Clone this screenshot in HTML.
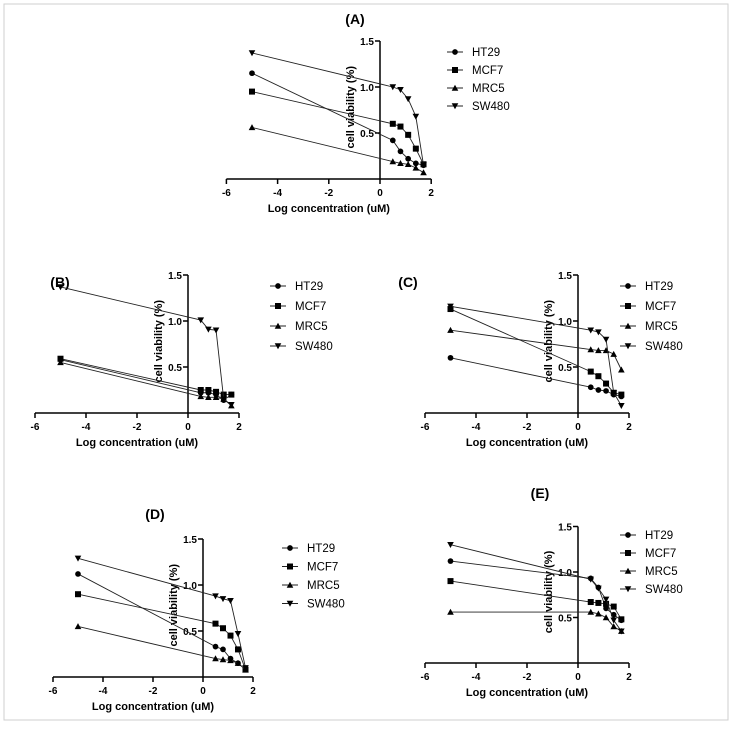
<!DOCTYPE html>
<html><head><meta charset="utf-8"><style>
html,body{margin:0;padding:0;background:#fff;}
svg text{font-family:"Liberation Sans",Arial,sans-serif;}
</style></head><body>
<svg id="fig" width="733" height="724" xmlns="http://www.w3.org/2000/svg">
<rect x="4" y="4" width="724" height="716" fill="none" stroke="#cfcfcf" stroke-width="1"/>
</svg>
<script>
const xVals=[-5,0.5,0.8,1.1,1.4,1.7];
const seriesNames=["HT29","MCF7","MRC5","SW480"];
const xTicks=[-6,-4,-2,0,2];
const yTicks=[0.5,1.0,1.5];
const A_HT29=[1.15,0.42,0.3,0.22,0.17,0.15];
const A_MCF7=[0.95,0.6,0.57,0.48,0.33,0.16];
const A_MRC5=[0.56,0.19,0.17,0.16,0.12,0.07];
const A_SW480=[1.37,1.0,0.97,0.87,0.68,0.15];
const B_HT29=[0.58,0.22,0.22,0.2,0.14,0.2];
const B_MCF7=[0.59,0.25,0.25,0.23,0.2,0.2];
const B_MRC5=[0.55,0.18,0.17,0.17,0.15,0.08];
const B_SW480=[1.37,1.01,0.91,0.9,0.15,0.09];
const C_HT29=[0.6,0.28,0.25,0.24,0.2,0.18];
const C_MCF7=[1.13,0.45,0.4,0.32,0.22,0.2];
const C_MRC5=[0.9,0.69,0.68,0.68,0.64,0.47];
const C_SW480=[1.16,0.9,0.88,0.8,0.22,0.08];
const D_HT29=[1.12,0.33,0.3,0.2,0.15,0.08];
const D_MCF7=[0.9,0.58,0.53,0.45,0.3,0.08];
const D_MRC5=[0.55,0.2,0.19,0.18,0.15,0.08];
const D_SW480=[1.29,0.88,0.85,0.83,0.47,0.1];
const E_HT29=[1.12,0.93,0.83,0.6,0.53,0.47];
const E_MCF7=[0.9,0.67,0.66,0.65,0.62,0.48];
const E_MRC5=[0.56,0.56,0.54,0.5,0.4,0.35];
const E_SW480=[1.3,0.92,0.82,0.7,0.47,0.35];

const panels=[
 {id:"A",ox:380,base:179,ux:25.6,uy:92,tx:355,ty:24,lx:455,ly:52,ls:18,data:[A_HT29,A_MCF7,A_MRC5,A_SW480]},
 {id:"B",ox:188,base:413,ux:25.5,uy:92,tx:60,ty:287,lx:278,ly:286,ls:20,data:[B_HT29,B_MCF7,B_MRC5,B_SW480]},
 {id:"C",ox:578,base:413,ux:25.5,uy:92,tx:408,ty:287,lx:628,ly:286,ls:20,data:[C_HT29,C_MCF7,C_MRC5,C_SW480]},
 {id:"D",ox:203,base:677,ux:25,uy:92,tx:155,ty:519,lx:290,ly:548,ls:18.5,data:[D_HT29,D_MCF7,D_MRC5,D_SW480]},
 {id:"E",ox:578,base:663,ux:25.5,uy:91,tx:540,ty:498,lx:628,ly:535,ls:18,data:[E_HT29,E_MCF7,E_MRC5,E_SW480]}
];
const svg=document.getElementById('fig');
const NS="http://www.w3.org/2000/svg";
function mk(tag,attrs,parent){const e=document.createElementNS(NS,tag);for(const k in attrs)e.setAttribute(k,attrs[k]);(parent||svg).appendChild(e);return e;}
function marker(g,i,x,y,s){
 let e;
 if(i===0){e=mk('circle',{cx:x,cy:y,r:s*0.95,fill:'#000'},g);}
 else if(i===1){e=mk('rect',{x:x-s,y:y-s,width:2*s,height:2*s,fill:'#000'},g);}
 else if(i===2){e=mk('polygon',{points:`${x},${y-s*1.1} ${x-s*1.1},${y+s*0.9} ${x+s*1.1},${y+s*0.9}`,fill:'#000'},g);}
 else {e=mk('polygon',{points:`${x},${y+s*1.1} ${x-s*1.1},${y-s*0.9} ${x+s*1.1},${y-s*0.9}`,fill:'#000'},g);}
 return e;
}
panels.forEach(p=>{
 const g=mk('g',{});
 
 
 const X=v=>p.ox+v*p.ux, Y=v=>p.base-v*p.uy;
 const t=mk('text',{x:p.tx,y:p.ty,'font-size':14,'font-weight':'bold','text-anchor':'middle'},g);t.textContent='('+p.id+')';
 
 const xa=mk('line',{x1:X(-6),x2:X(2),y1:p.base,y2:p.base,stroke:'#000','stroke-width':1.5},g);
 
 xTicks.forEach(v=>{mk('line',{x1:X(v),x2:X(v),y1:p.base,y2:p.base+5,stroke:'#000','stroke-width':1.5},g);
  const tl=mk('text',{x:X(v),y:p.base+17,'font-size':10,'font-weight':'bold','text-anchor':'middle'},g);tl.textContent=v;
  });
 const xl=mk('text',{x:X(-2),y:p.base+33,'font-size':11,'font-weight':'bold','text-anchor':'middle'},g);xl.textContent='Log concentration (uM)';
 
 const ya=mk('line',{x1:p.ox,x2:p.ox,y1:p.base,y2:Y(1.5),stroke:'#000','stroke-width':1.5},g);
 
 yTicks.forEach(v=>{mk('line',{x1:p.ox-5,x2:p.ox,y1:Y(v),y2:Y(v),stroke:'#000','stroke-width':1.5},g);
  const tl=mk('text',{x:p.ox-6,y:Y(v)+4,'font-size':10,'font-weight':'bold','text-anchor':'end'},g);tl.textContent=v.toFixed(1);
  });
 const yl=mk('text',{x:0,y:0,'font-size':11,'font-weight':'bold','text-anchor':'middle',transform:`translate(${p.ox-26},${Y(0.78)}) rotate(-90)`},g);yl.textContent='cell viability (%)';
 
 p.data.forEach((vals,i)=>{
  const sg=mk('g',{},g);
  
  
  const pts=vals.map((v,k)=>X(xVals[k])+','+Y(v)).join(' ');
  mk('polyline',{points:pts,fill:'none',stroke:'#222','stroke-width':0.9},sg);
  vals.forEach((v,k)=>{const m=marker(sg,i,X(xVals[k]),Y(v),3);
   
   });
  const ly=p.ly+i*p.ls;
  const lg=mk('g',{},g);
  
  
  mk('line',{x1:p.lx-8,x2:p.lx+8,y1:ly,y2:ly,stroke:'#222','stroke-width':1},lg);
  marker(lg,i,p.lx,ly,3);
  const lt=mk('text',{x:p.lx+17,y:ly+4,'font-size':11.5},lg);lt.textContent=seriesNames[i];
 });
});
</script>
</body></html>
